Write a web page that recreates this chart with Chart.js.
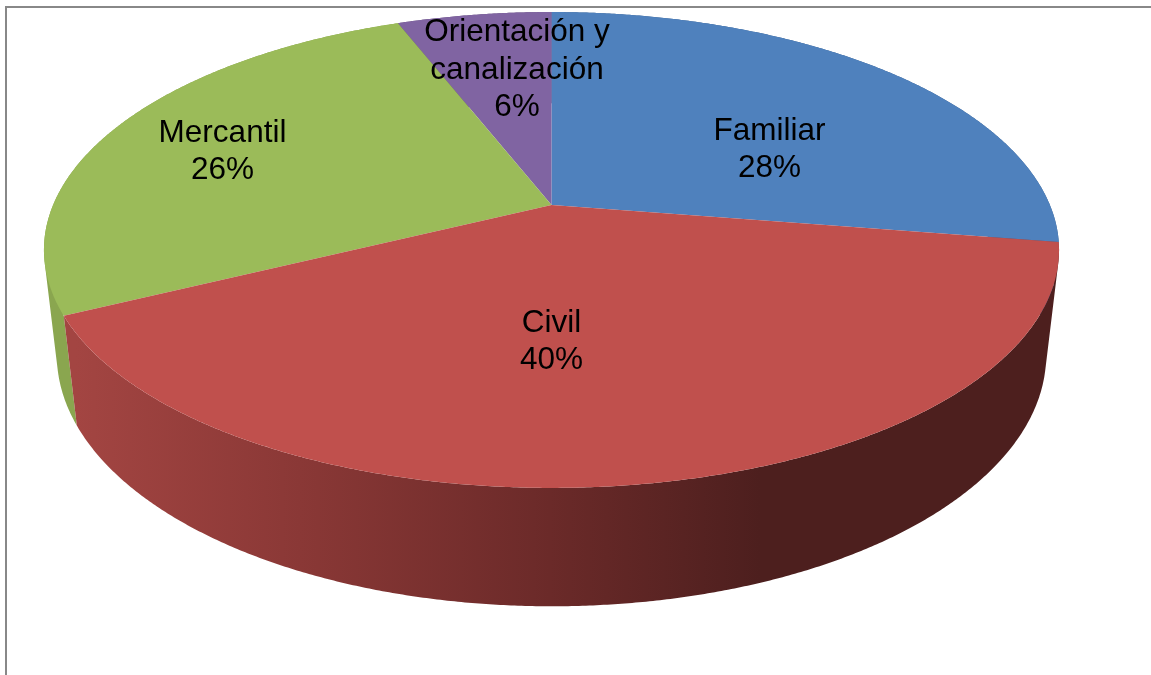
<!DOCTYPE html>
<html>
<head>
<meta charset="utf-8">
<style>
html, body { margin: 0; padding: 0; background: #fff; overflow: hidden; }
#wrap { position: absolute; left: 0; top: 0; width: 1151px; height: 675px; }
</style>
<script src="https://cdn.jsdelivr.net/npm/chart.js@4/dist/chart.umd.js"></script>
</head>
<body>
<div id="wrap"><canvas id="grafico" width="1151" height="675"></canvas></div>
<script>
// valores (las etiquetas redondean a 28, 40, 26, 6)
var categorias = ["Familiar", "Civil", "Mercantil", "Orientación y canalización"];
var valores = [27.5, 40.2, 26.4, 5.9];
var lineasEtiqueta = [["Familiar"], ["Civil"], ["Mercantil"], ["Orientación y", "canalización"]];
var colores = ["#4f81bd", "#c0504d", "#9bbb59", "#8064a2"];
var coloresLado = ["#3a5f8c", null, "#8aa64f", "#5f4a78"];
// desplazamiento de cada etiqueta respecto al centro del pastel
var desplazEtiqueta = [[218, -55], [0, 137], [-329, -53], [-34.5, -135]];

// perspectiva del disco (coordenadas u,v del circulo unidad, h = altura 0..1)
var persp = { cx: 551.5, a: 498.4, c: 205, b: 190.7, d: 111.2, k: -0.189, e: 0.0251 };

function proyectar(angulo, radio, h) {
    var u = Math.cos(angulo) * radio;
    var v = Math.sin(angulo) * radio;
    var w = 1 + persp.k * v + persp.e * h;
    return {
        x: persp.cx + persp.a * u / w,
        y: (persp.c + persp.b * v + persp.d * h) / w
    };
}

function puntosBorde(inicio, fin, h) {
    var pasos = Math.max(4, Math.ceil((fin - inicio) / 0.006));
    var pts = [];
    for (var i = 0; i <= pasos; i++) {
        pts.push(proyectar(inicio + (fin - inicio) * i / pasos, 1, h));
    }
    return pts;
}

function degradadoLado(ctx) {
    var g = ctx.createLinearGradient(76, 0, 1059, 0);
    g.addColorStop(0, "#a34542");
    g.addColorStop((300 - 76) / 983, "#8a3836");
    g.addColorStop((550 - 76) / 983, "#6b2a29");
    g.addColorStop((760 - 76) / 983, "#4d1f1e");
    g.addColorStop(1, "#4d1f1e");
    return g;
}

function areaCuad(q) {
    var s = 0;
    for (var i = 0; i < 4; i++) {
        var p = q[i], r = q[(i + 1) % 4];
        s += p.x * r.y - r.x * p.y;
    }
    return s;
}

var pastel3d = {
    id: "pastel3d",
    beforeDraw: function (chart) {
        var ctx = chart.ctx;
        ctx.save();
        ctx.strokeStyle = "#888888";
        ctx.lineWidth = 2;
        ctx.beginPath();
        ctx.moveTo(6, 675);
        ctx.lineTo(6, 7);
        ctx.lineTo(1151, 7);
        ctx.stroke();
        ctx.restore();
    },
    beforeDatasetsDraw: function (chart) {
        var ctx = chart.ctx;
        var arcos = chart.getDatasetMeta(0).data;
        var orden = [0, 3, 2, 1]; // de atras hacia adelante

        ctx.save();
        // pared lateral: todas las tiras en un solo path y con el mismo sentido,
        // asi el contorno puede dar la vuelta en los extremos sin huecos ni rayas
        orden.forEach(function (i) {
            var arco = arcos[i];
            var arriba = puntosBorde(arco.startAngle, arco.endAngle, 0);
            var abajo = puntosBorde(arco.startAngle, arco.endAngle, 1);
            ctx.beginPath();
            for (var n = 0; n < arriba.length - 1; n++) {
                var q = [arriba[n], arriba[n + 1], abajo[n + 1], abajo[n]];
                if (areaCuad(q) < 0) q.reverse();
                ctx.moveTo(q[0].x, q[0].y);
                ctx.lineTo(q[1].x, q[1].y);
                ctx.lineTo(q[2].x, q[2].y);
                ctx.lineTo(q[3].x, q[3].y);
                ctx.closePath();
            }
            ctx.fillStyle = coloresLado[i] || degradadoLado(ctx);
            ctx.fill();
        });

        orden.forEach(function (i) {
            var arco = arcos[i];
            var centro = proyectar(0, 0, 0);
            ctx.beginPath();
            ctx.moveTo(centro.x, centro.y);
            puntosBorde(arco.startAngle, arco.endAngle, 0).forEach(function (p) {
                ctx.lineTo(p.x, p.y);
            });
            ctx.closePath();
            ctx.fillStyle = colores[i];
            ctx.fill();
        });
        ctx.restore();
        return false;
    },
    afterDraw: function (chart) {
        var ctx = chart.ctx;
        var total = valores.reduce(function (s, n) { return s + n; }, 0);
        var centro = proyectar(0, 0, 0);
        ctx.save();
        ctx.font = "31.5px 'Liberation Sans', Arial, sans-serif";
        ctx.fillStyle = "#000";
        ctx.textAlign = "center";
        ctx.textBaseline = "middle";
        valores.forEach(function (valor, i) {
            var lineas = lineasEtiqueta[i].concat([Math.round(valor * 100 / total) + "%"]);
            var alto = 37.5;
            var y = centro.y + desplazEtiqueta[i][1] - (lineas.length - 1) * alto / 2;
            lineas.forEach(function (texto, n) {
                ctx.fillText(texto, centro.x + desplazEtiqueta[i][0], y + n * alto);
            });
        });
        ctx.restore();
    }
};

new Chart(document.getElementById("grafico"), {
    type: "pie",
    data: {
        labels: categorias,
        datasets: [{
            data: valores,
            backgroundColor: colores,
            borderWidth: 0
        }]
    },
    options: {
        responsive: false,
        animation: false,
        plugins: {
            legend: { display: false },
            tooltip: { enabled: false }
        }
    },
    plugins: [pastel3d]
});
</script>
</body>
</html>
